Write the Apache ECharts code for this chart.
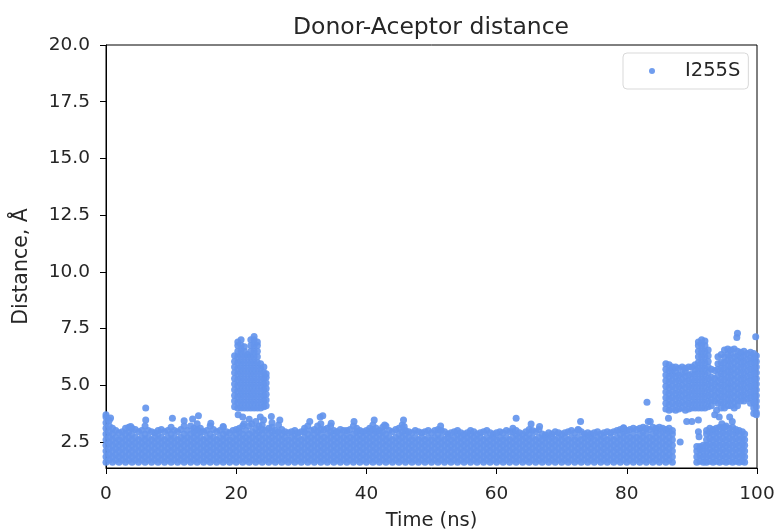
<!DOCTYPE html>
<html><head><meta charset="utf-8">
<script src="https://cdn.jsdelivr.net/npm/echarts@6/dist/echarts.min.js"></script>
<style>html,body{margin:0;padding:0;background:#fff}#c{width:777px;height:531px}</style>
</head><body><div id="c"></div>
<script>
const seriesName = 'I255S';
const xTicks = [0, 20, 40, 60, 80, 100];
const yTicks = [2.5, 5, 7.5, 10, 12.5, 15, 17.5, 20];

const baseCols = [
[0,1.6,1.85,2.1,2.35,2.6,2.85,3.1,3.35,3.6,3.7],
[0.5,1.7,1.95,2.2,2.45,2.7,2.95,3.2,3.45],
[1,1.6,1.85,2.1,2.35,2.6,2.85,3.1],
[1.5,1.7,1.95,2.2,2.45,2.7,3.0],
[2,1.6,1.85,2.1,2.35,2.6,2.9],
[2.5,1.7,1.95,2.2,2.45,2.7,2.95],
[3,1.6,1.85,2.1,2.35,2.6,2.85,3.1],
[3.5,1.7,1.95,2.2,2.45,2.7,2.95,3.15],
[4,1.6,1.85,2.1,2.35,2.6,2.85,3.1],
[4.5,1.7,1.95,2.2,2.45,2.7,3.05],
[5,1.6,1.85,2.1,2.35,2.6,2.95],
[5.5,1.7,1.95,2.2,2.45,2.7,3.0],
[6,1.6,1.85,2.1,2.35,2.6,2.85,3.2],
[6.5,1.7,1.95,2.2,2.45,2.7,3.0],
[7,1.6,1.85,2.1,2.35,2.6,2.95],
[7.5,1.7,1.95,2.2,2.45,2.7,2.9],
[8,1.6,1.85,2.1,2.35,2.6,2.85,3.0],
[8.5,1.7,1.95,2.2,2.45,2.7,3.05],
[9,1.6,1.85,2.1,2.35,2.6,2.95],
[9.5,1.7,1.95,2.2,2.45,2.7,3.0],
[10,1.6,1.85,2.1,2.35,2.6,2.85,3.15],
[10.5,1.7,1.95,2.2,2.45,2.7,3.0],
[11,1.6,1.85,2.1,2.35,2.6,2.95],
[11.5,1.7,1.95,2.2,2.45,2.7,3.05],
[12,1.6,1.85,2.1,2.35,2.6,2.85,3.2],
[12.5,1.7,1.95,2.2,2.45,2.7,3.0],
[13,1.6,1.85,2.1,2.35,2.6,2.85,3.2],
[13.5,1.7,1.95,2.2,2.45,2.7,2.95,3.1],
[14,1.6,1.85,2.1,2.35,2.6,2.85,3.05,3.3],
[14.5,1.7,1.95,2.2,2.45,2.7,2.95,3.1],
[15,1.6,1.85,2.1,2.35,2.6,2.95],
[15.5,1.7,1.95,2.2,2.45,2.7,3.0],
[16,1.6,1.85,2.1,2.35,2.6,2.85,3.2],
[16.5,1.7,1.95,2.2,2.45,2.7,3.05],
[17,1.6,1.85,2.1,2.35,2.6,2.95],
[17.5,1.7,1.95,2.2,2.45,2.7,3.0],
[18,1.6,1.85,2.1,2.35,2.6,2.85,3.15],
[18.5,1.7,1.95,2.2,2.45,2.7,2.95],
[19,1.6,1.85,2.1,2.35,2.6,2.9],
[19.5,1.7,1.95,2.2,2.45,2.7,3.0],
[20,1.6,1.85,2.1,2.35,2.6,2.85,3.05],
[20.5,1.7,1.95,2.2,2.45,2.7,2.95,3.1],
[21,1.6,1.85,2.1,2.35,2.6,2.85,3.2],
[21.5,1.7,1.95,2.2,2.45,2.7,3.0],
[22,1.6,1.85,2.1,2.35,2.6,2.85,3.2],
[22.5,1.7,1.95,2.2,2.45,2.7,2.95],
[23,1.6,1.85,2.1,2.35,2.6,2.85,3.1],
[23.5,1.7,1.95,2.2,2.45,2.7,2.95,3.2],
[24,1.6,1.85,2.1,2.35,2.6,2.85,3.05,3.25],
[24.5,1.7,1.95,2.2,2.45,2.7,3.0],
[25,1.6,1.85,2.1,2.35,2.6,2.85,3.1],
[25.5,1.7,1.95,2.2,2.45,2.7,2.95,3.15,3.35],
[26,1.6,1.85,2.1,2.35,2.6,2.85,3.0],
[26.5,1.7,1.95,2.2,2.45,2.7,2.95,3.25],
[27,1.6,1.85,2.1,2.35,2.6,2.85,3.05],
[27.5,1.7,1.95,2.2,2.45,2.7,2.95],
[28,1.6,1.85,2.1,2.35,2.6,2.9],
[28.5,1.7,1.95,2.2,2.45,2.7,2.95],
[29,1.6,1.85,2.1,2.35,2.6,2.85,3.0],
[29.5,1.7,1.95,2.2,2.45,2.7,2.9],
[30,1.6,1.85,2.1,2.35,2.6,2.95],
[30.5,1.7,1.95,2.2,2.45,2.7,2.95,3.1],
[31,1.6,1.85,2.1,2.35,2.6,2.85,3.2],
[31.5,1.7,1.95,2.2,2.45,2.7,3.0],
[32,1.6,1.85,2.1,2.35,2.6,2.85,3.05],
[32.5,1.7,1.95,2.2,2.45,2.7,2.95,3.2],
[33,1.6,1.85,2.1,2.35,2.6,2.85,3.05,3.3],
[33.5,1.7,1.95,2.2,2.45,2.7,3.05],
[34,1.6,1.85,2.1,2.35,2.6,2.85,3.1],
[34.5,1.7,1.95,2.2,2.45,2.7,2.95,3.2],
[35,1.6,1.85,2.1,2.35,2.6,2.85,3.0],
[35.5,1.7,1.95,2.2,2.45,2.7,2.95],
[36,1.6,1.85,2.1,2.35,2.6,2.85,3.05],
[36.5,1.7,1.95,2.2,2.45,2.7,3.0],
[37,1.6,1.85,2.1,2.35,2.6,2.85,3.0],
[37.5,1.7,1.95,2.2,2.45,2.7,3.05],
[38,1.6,1.85,2.1,2.35,2.6,2.85,3.2],
[38.5,1.7,1.95,2.2,2.45,2.7,2.95,3.1],
[39,1.6,1.85,2.1,2.35,2.6,2.85,3.0],
[39.5,1.7,1.95,2.2,2.45,2.7,2.95],
[40,1.6,1.85,2.1,2.35,2.6,2.85,3.0],
[40.5,1.7,1.95,2.2,2.45,2.7,2.95,3.1],
[41,1.6,1.85,2.1,2.35,2.6,2.85,3.05,3.25],
[41.5,1.7,1.95,2.2,2.45,2.7,2.95,3.1],
[42,1.6,1.85,2.1,2.35,2.6,2.85,3.0],
[42.5,1.7,1.95,2.2,2.45,2.7,2.95,3.15],
[43,1.6,1.85,2.1,2.35,2.6,2.85,3.2],
[43.5,1.7,1.95,2.2,2.45,2.7,3.0],
[44,1.6,1.85,2.1,2.35,2.6,2.95],
[44.5,1.7,1.95,2.2,2.45,2.7,3.05],
[45,1.6,1.85,2.1,2.35,2.6,2.85,3.1],
[45.5,1.7,1.95,2.2,2.45,2.7,2.95,3.25],
[46,1.6,1.85,2.1,2.35,2.6,2.85,3.0],
[46.5,1.7,1.95,2.2,2.45,2.7,2.95],
[47,1.6,1.85,2.1,2.35,2.6,2.9],
[47.5,1.7,1.95,2.2,2.45,2.7,3.0],
[48,1.6,1.85,2.1,2.35,2.6,2.95],
[48.5,1.7,1.95,2.2,2.45,2.7,2.9],
[49,1.6,1.85,2.1,2.35,2.6,2.95],
[49.5,1.7,1.95,2.2,2.45,2.7,3.0],
[50,1.6,1.85,2.1,2.35,2.6,2.9],
[50.5,1.7,1.95,2.2,2.45,2.7,3.0],
[51,1.6,1.85,2.1,2.35,2.6,2.85,3.05],
[51.5,1.7,1.95,2.2,2.45,2.7,3.0],
[52,1.6,1.85,2.1,2.35,2.6,2.95],
[52.5,1.7,1.95,2.2,2.45,2.7,2.85],
[53,1.6,1.85,2.1,2.35,2.6,2.9],
[53.5,1.7,1.95,2.2,2.45,2.7,2.95],
[54,1.6,1.85,2.1,2.35,2.6,2.85,3.0],
[54.5,1.7,1.95,2.2,2.45,2.7,2.9],
[55,1.6,1.85,2.1,2.35,2.6,2.85],
[55.5,1.7,1.95,2.2,2.45,2.7,2.9],
[56,1.6,1.85,2.1,2.35,2.6,2.85,3.0],
[56.5,1.7,1.95,2.2,2.45,2.7,2.95],
[57,1.6,1.85,2.1,2.35,2.6,2.85],
[57.5,1.7,1.95,2.2,2.45,2.7,2.9],
[58,1.6,1.85,2.1,2.35,2.6,2.95],
[58.5,1.7,1.95,2.2,2.45,2.7,3.0],
[59,1.6,1.85,2.1,2.35,2.6,2.9],
[59.5,1.7,1.95,2.2,2.45,2.7,2.85],
[60,1.6,1.85,2.1,2.35,2.6,2.9],
[60.5,1.7,1.95,2.2,2.45,2.7,2.95],
[61,1.6,1.85,2.1,2.35,2.6,2.9],
[61.5,1.7,1.95,2.2,2.45,2.7,3.0],
[62,1.6,1.85,2.1,2.35,2.6,2.95],
[62.5,1.7,1.95,2.2,2.45,2.7,2.95,3.1],
[63,1.6,1.85,2.1,2.35,2.6,2.85,3.0],
[63.5,1.7,1.95,2.2,2.45,2.7,2.9],
[64,1.6,1.85,2.1,2.35,2.6,2.85],
[64.5,1.7,1.95,2.2,2.45,2.7,2.95],
[65,1.6,1.85,2.1,2.35,2.6,2.85,3.05],
[65.5,1.7,1.95,2.2,2.45,2.7,3.0],
[66,1.6,1.85,2.1,2.35,2.6,2.95],
[66.5,1.7,1.95,2.2,2.45,2.7,3.05],
[67,1.6,1.85,2.1,2.35,2.6,2.85],
[67.5,1.7,1.95,2.2,2.45,2.7,2.8],
[68,1.6,1.85,2.1,2.35,2.6,2.9],
[68.5,1.7,1.95,2.2,2.45,2.7,2.85],
[69,1.6,1.85,2.1,2.35,2.6,2.95],
[69.5,1.7,1.95,2.2,2.45,2.7,2.9],
[70,1.6,1.85,2.1,2.35,2.6,2.85],
[70.5,1.7,1.95,2.2,2.45,2.7,2.9],
[71,1.6,1.85,2.1,2.35,2.6,2.95],
[71.5,1.7,1.95,2.2,2.45,2.7,3.0],
[72,1.6,1.85,2.1,2.35,2.6,2.9],
[72.5,1.7,1.95,2.2,2.45,2.7,3.05],
[73,1.6,1.85,2.1,2.35,2.6,2.95],
[73.5,1.7,1.95,2.2,2.45,2.7,2.85],
[74,1.6,1.85,2.1,2.35,2.6,2.9],
[74.5,1.7,1.95,2.2,2.45,2.7,2.85],
[75,1.6,1.85,2.1,2.35,2.6,2.9],
[75.5,1.7,1.95,2.2,2.45,2.7,2.95],
[76,1.6,1.85,2.1,2.35,2.6,2.85],
[76.5,1.7,1.95,2.2,2.45,2.7,2.9],
[77,1.6,1.85,2.1,2.35,2.6,2.95],
[77.5,1.7,1.95,2.2,2.45,2.7,2.9],
[78,1.6,1.85,2.1,2.35,2.6,2.95],
[78.5,1.7,1.95,2.2,2.45,2.7,3.0],
[79,1.6,1.85,2.1,2.35,2.6,2.85,3.05],
[79.5,1.7,1.95,2.2,2.45,2.7,2.95,3.1],
[80,1.6,1.85,2.1,2.35,2.6,2.85,3.0],
[80.5,1.7,1.95,2.2,2.45,2.7,3.05],
[81,1.6,1.85,2.1,2.35,2.6,2.85,3.1],
[81.5,1.7,1.95,2.2,2.45,2.7,3.05],
[82,1.6,1.85,2.1,2.35,2.6,2.85,3.1],
[82.5,1.7,1.95,2.2,2.45,2.7,2.95,3.15],
[83,1.6,1.85,2.1,2.35,2.6,2.85,3.1],
[83.5,1.7,1.95,2.2,2.45,2.7,3.05],
[84,1.6,1.85,2.1,2.35,2.6,2.85,3.15],
[84.5,1.7,1.95,2.2,2.45,2.7,2.95,3.1],
[85,1.6,1.85,2.1,2.35,2.6,2.85,3.15],
[85.5,1.7,1.95,2.2,2.45,2.7,2.95,3.1],
[86,1.6,1.85,2.1,2.35,2.6,2.85,3.05],
[86.5,1.7,1.95,2.2,2.45,2.7,2.95,3.1],
[87,1.6,1.85,2.1,2.35,2.6,2.85,3.0]
];

const spikeCols = [
[19.75,4.05,4.3,4.55,4.8,5.05,5.3,5.55,5.8,6.05,6.3],
[20.25,4.0,4.25,4.5,4.75,5.0,5.25,5.5,5.75,6.0,6.25,6.5,6.75,6.9],
[20.75,4.0,4.25,4.5,4.75,5.0,5.25,5.5,5.75,6.0,6.25,6.5,6.75,7.0],
[21.25,4.0,4.25,4.5,4.75,5.0,5.25,5.5,5.75,6.0,6.25,6.5,6.7],
[21.75,4.0,4.25,4.5,4.75,5.0,5.25,5.5,5.75,6.0,6.25,6.35],
[22.25,4.0,4.25,4.5,4.75,5.0,5.25,5.5,5.75,6.0,6.25,6.5,6.75,7.0],
[22.75,4.0,4.25,4.5,4.75,5.0,5.25,5.5,5.75,6.0,6.25,6.5,6.75,7.0,7.15],
[23.25,4.0,4.25,4.5,4.75,5.0,5.25,5.5,5.75,6.0,6.25,6.5,6.75,6.9],
[23.75,4.0,4.25,4.5,4.75,5.0,5.25,5.5,5.75,5.95],
[24.25,4.05,4.3,4.55,4.8,5.05,5.3,5.55,5.8],
[24.6,4.1,4.35,4.6,4.85,5.1,5.35,5.5]
];

const upperRightCols = [
[86,3.95,4.2,4.45,4.7,4.95,5.2,5.45,5.7,5.95],
[86.5,3.9,4.15,4.4,4.65,4.9,5.15,5.4,5.65,5.9],
[87,3.95,4.2,4.45,4.7,4.95,5.2,5.45,5.65,5.8],
[87.5,3.9,4.15,4.4,4.65,4.9,5.15,5.4,5.6,5.8],
[88,3.95,4.2,4.45,4.7,4.95,5.2,5.45,5.75],
[88.5,4.0,4.25,4.5,4.75,5.0,5.25,5.5,5.8],
[89,3.9,4.15,4.4,4.65,4.9,5.15,5.4,5.6,5.75],
[89.5,3.95,4.2,4.45,4.7,4.95,5.2,5.45,5.8],
[90,4.0,4.25,4.5,4.75,5.0,5.25,5.5,5.8],
[90.5,4.0,4.25,4.5,4.75,5.0,5.25,5.5,5.7,5.9],
[91,4.0,4.25,4.5,4.75,5.0,5.25,5.5,5.75,6.0,6.25,6.5,6.75,6.9],
[91.5,4.0,4.25,4.5,4.75,5.0,5.25,5.5,5.75,6.0,6.25,6.5,6.75,7.0],
[92,4.0,4.25,4.5,4.75,5.0,5.25,5.5,5.75,6.0,6.25,6.5,6.75,6.95],
[92.5,4.05,4.3,4.55,4.8,5.05,5.3,5.55,5.8,6.05,6.3,6.55],
[93,4.1,4.35,4.6,4.85,5.1,5.35,5.7],
[93.5,4.3,4.55,4.8,5.05,5.3,5.65],
[94,4.2,4.45,4.7,4.95,5.2,5.45,5.7,5.95,6.25],
[94.5,4.0,4.25,4.5,4.75,5.0,5.25,5.5,5.75,6.0,6.35],
[95,4.0,4.25,4.5,4.75,5.0,5.25,5.5,5.75,6.0,6.25,6.55],
[95.5,4.1,4.35,4.6,4.85,5.1,5.35,5.6,5.85,6.1,6.35,6.6],
[96,4.1,4.35,4.6,4.85,5.1,5.35,5.6,5.85,6.1,6.35,6.55],
[96.5,4.0,4.25,4.5,4.75,5.0,5.25,5.5,5.75,6.0,6.25,6.6],
[97,4.1,4.35,4.6,4.85,5.1,5.35,5.6,5.85,6.1,6.3,6.5],
[97.5,4.3,4.55,4.8,5.05,5.3,5.55,5.8,6.05,6.25,6.45],
[98,4.3,4.55,4.8,5.05,5.3,5.55,5.8,6.05,6.3,6.5],
[98.5,4.4,4.65,4.9,5.15,5.4,5.65,5.9,6.15,6.4],
[99,4.2,4.45,4.7,4.95,5.2,5.45,5.7,5.95,6.2,6.45],
[99.5,3.75,4.0,4.25,4.5,4.75,5.0,5.25,5.5,5.75,6.0,6.2,6.4],
[99.9,3.8,4.05,4.3,4.55,4.8,5.05,5.3,5.55,5.8,6.05,6.3]
];

const lowerRightCols = [
[90.75,1.6,1.85,2.1,2.3],
[91.25,1.65,1.9,2.15,2.3],
[91.75,1.6,1.85,2.1,2.35],
[92.25,1.6,1.85,2.1,2.35,2.6,2.85,3.0],
[92.75,1.65,1.9,2.15,2.4,2.65,2.9,3.1],
[93.25,1.6,1.85,2.1,2.35,2.6,2.85,3.05],
[93.75,1.65,1.9,2.15,2.4,2.65,2.9,3.1],
[94.25,1.6,1.85,2.1,2.35,2.6,2.85,3.15],
[94.75,1.65,1.9,2.15,2.4,2.65,2.9,3.1],
[95.25,1.6,1.85,2.1,2.35,2.6,2.85,3.2],
[95.75,1.65,1.9,2.15,2.4,2.65,2.9,3.1],
[96.25,1.6,1.85,2.1,2.35,2.6,2.85,3.15],
[96.75,1.65,1.9,2.15,2.4,2.65,2.9,3.05],
[97.25,1.6,1.85,2.1,2.35,2.6,2.85,3.0],
[97.75,1.65,1.9,2.15,2.4,2.65,2.95],
[98.1,1.6,1.85,2.1,2.35,2.6,2.85]
];

// isolated points [time, distance]
const scattered = [
[0.7,3.56],[3.8,3.18],[6.1,3.99],[6.1,3.47],[10.2,3.54],[12.0,3.43],[13.3,3.51],[14.2,3.65],
[16.1,3.32],[18.0,3.18],[20.3,3.7],[21.0,3.6],[21.2,3.3],[22.0,3.5],[22.4,3.3],[23.0,3.4],
[23.7,3.6],[24.2,3.47],[25.4,3.62],[26.7,3.47],[31.3,3.4],[32.9,3.6],[33.3,3.65],[34.6,3.32],
[38.1,3.4],[41.2,3.47],[42.8,3.25],[45.7,3.47],[45.8,3.18],[51.4,3.2],[63.0,3.54],[65.3,3.29],
[66.6,3.18],[72.9,3.4],[72.6,3.03],[79.5,3.13],[83.1,4.25],[83.3,3.4],[83.6,3.4],[86.4,3.54],
[88.2,2.5],[89.2,3.4],[90.0,3.4],[91.0,3.47],[91.0,2.95],[91.1,2.73],[93.5,3.7],[93.8,3.9],
[94.2,3.6],[94.6,3.3],[95.0,3.15],[95.8,3.6],[96.2,3.4],[96.9,7.1],[97.0,7.29],[99.8,7.14],[99.9,3.7]
];

function columnsToPoints(cols) {
  const out = [];
  cols.forEach(c => { for (let i = 1; i < c.length; i++) out.push([c[0], c[i]]); });
  return out;
}
const points = [].concat(
  columnsToPoints(baseCols), columnsToPoints(spikeCols),
  columnsToPoints(upperRightCols), columnsToPoints(lowerRightCols), scattered);

const FONT = 'DejaVu Sans';
const TXT = '#262626';
const chart = echarts.init(document.getElementById('c'), null, {renderer: 'canvas'});
chart.setOption({
  animation: false,
  backgroundColor: '#fff',
  textStyle: {fontFamily: FONT},
  title: {
    text: 'Donor-Aceptor distance',
    left: 426, top: 11, textAlign: 'center',
    textStyle: {fontFamily: FONT, fontSize: 23.5, fontWeight: 'normal', color: TXT}
  },
  legend: {
    data: [seriesName],
    left: 623, top: 53,
    icon: 'circle', itemWidth: 56, itemHeight: 6,
    padding: [8, 8, 8, 26],
    borderColor: '#d9d9d9', borderWidth: 1, borderRadius: 4,
    backgroundColor: 'rgba(255,255,255,0.8)',
    textStyle: {fontFamily: FONT, fontSize: 19.5, color: TXT}
  },
  grid: {left: 106, right: 20, top: 45, bottom: 63, show: true, borderColor: '#000', borderWidth: 1,
    backgroundColor: 'transparent', containLabel: false, outerBoundsMode: 'none'},
  xAxis: {
    type: 'value', min: 0, max: 100, interval: 20,
    name: 'Time (ns)', nameLocation: 'middle', nameGap: 43,
    nameTextStyle: {fontFamily: FONT, fontSize: 19.5, color: TXT},
    axisLine: {show: true, lineStyle: {color: '#000', width: 1}},
    axisTick: {show: true, inside: false, length: 6, lineStyle: {color: '#000'}, customValues: xTicks},
    axisLabel: {fontFamily: FONT, fontSize: 18.5, color: TXT, margin: 17, customValues: xTicks},
    splitLine: {show: false}
  },
  yAxis: {
    type: 'value', min: 1.35, max: 20,
    name: 'Distance, Å', nameLocation: 'middle', nameGap: 74,
    nameTextStyle: {fontFamily: FONT, fontSize: 20.5, color: TXT, padding: [0, 20, 0, 0]},
    axisLine: {show: true, lineStyle: {color: '#000', width: 1}},
    axisTick: {show: true, inside: false, length: 6, lineStyle: {color: '#000'}, customValues: yTicks},
    axisLabel: {fontFamily: FONT, fontSize: 18.5, color: TXT, margin: 16, customValues: yTicks,
      formatter: v => Number(v).toFixed(1)},
    splitLine: {show: false}
  },
  series: [{
    name: seriesName, type: 'scatter', data: points,
    symbol: 'circle', symbolSize: 7, large: false,
    itemStyle: {color: '#6495ED', opacity: 0.92},
    clip: true
  }]
});
</script>
</body></html>
